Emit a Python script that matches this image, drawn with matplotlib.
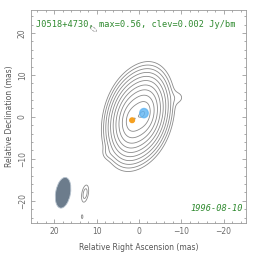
import numpy as np
import matplotlib.pyplot as plt
from matplotlib.patches import Ellipse

# Datos del mapa
source = "J0518+4730"
peak = 0.56
clev = 0.002
date = "1996-08-10"
n_levels = 11
level_step = 1.75

# emisión principal (perfil exp(-rho^p)): x, y, amplitud, escalas, PA
main_x = [-1.2, 1.6]
main_y = [0.9, -0.8]
main_amp = [0.29, 0.27]
main_a, main_b, main_pa, main_p = 3.95, 2.3, -10, 1.5

# componentes gaussianas débiles: x, y (mas), amplitud (Jy/bm), sigma mayor/menor, PA (grados)
comp_x = [-9.4, 7.4, 12.7, 13.4, 10.8]
comp_y = [4.6, -8.8, -18.3, -23.8, 21.0]
comp_amp = [0.0013, 0.0010, 0.0030, 0.00215, -0.0023]
comp_smaj = [1.2, 1.0, 1.6, 0.45, 0.9]
comp_smin = [1.2, 1.0, 0.6, 0.18, 0.35]
comp_pa = [0, 0, -10, 0, 50]

# componentes del modelo
dot_x = [1.6, -1.2]
dot_y = [-0.8, 0.9]
dot_r = [0.55, 1.0]
dot_col = ['#f5a020', '#5fb4f2']

# haz
beam_x, beam_y = 17.9, -18.1
beam_maj, beam_min, beam_pa = 7.4, 3.5, -10


def rotar(X, Y, cx, cy, pa):
    t = np.radians(pa)
    dx = X - cx
    dy = Y - cy
    # u a lo largo del PA (norte hacia el este), v perpendicular
    return dx * np.sin(t) + dy * np.cos(t), dx * np.cos(t) - dy * np.sin(t)


x = np.linspace(27, -27, 540)
y = np.linspace(-27, 27, 540)
X, Y = np.meshgrid(x, y)

img = np.zeros_like(X)
for cx, cy, a in zip(main_x, main_y, main_amp):
    u, v = rotar(X, Y, cx, cy, main_pa)
    rho = np.sqrt((u / main_a) ** 2 + (v / main_b) ** 2)
    img += a * np.exp(-rho ** main_p)
for cx, cy, a, sj, sn, pa in zip(comp_x, comp_y, comp_amp, comp_smaj, comp_smin, comp_pa):
    u, v = rotar(X, Y, cx, cy, pa)
    img += a * np.exp(-0.5 * ((u / sj) ** 2 + (v / sn) ** 2))
img *= peak / img.max()

levels = [clev * level_step ** k for k in range(n_levels)]

fig = plt.figure(figsize=(2.64, 2.62), dpi=100)
ax = fig.add_axes([0.117, 0.149, 0.815, 0.813])
ax.contour(X, Y, img, levels=levels, colors='#8a8a8a', linewidths=0.6)
ax.contour(X, Y, img, levels=[-clev], colors='#8a8a8a', linewidths=0.5, linestyles='dashed')

ax.add_patch(Ellipse((dot_x[0], dot_y[0]), 2 * dot_r[0], 2 * dot_r[0], color=dot_col[0], zorder=5))
ax.add_patch(Ellipse((dot_x[1], dot_y[1]), 2 * dot_r[1], 2.2 * dot_r[1], color=dot_col[1], alpha=0.8, zorder=5))

ax.add_patch(Ellipse((beam_x, beam_y), beam_min, beam_maj, angle=-beam_pa,
                     facecolor='#6c7c8c', edgecolor='#b8c4d0', lw=0.6, zorder=4))

ax.set_xlim(25.5, -25.3)
ax.set_ylim(-25.3, 25.5)
ax.set_xticks([20, 10, 0, -10, -20])
ax.set_yticks([-20, -10, 0, 10, 20])
ax.set_xticks(np.arange(-24, 25, 2), minor=True)
ax.set_yticks(np.arange(-24, 25, 2), minor=True)
ax.set_xticklabels(['20', '10', '0', '\u221210', '\u221220'])
ax.set_yticklabels(['\u221220', '\u221210', '0', '10', '20'], rotation=90, va='center')
ax.tick_params(which='both', direction='in', top=True, right=True, colors='#888888',
               labelcolor='#6a6a6a', labelsize=5.5, width=0.5)
ax.tick_params(which='major', length=3, pad=3)
ax.tick_params(which='minor', length=1.5)
for s in ax.spines.values():
    s.set_color('#999999')
    s.set_linewidth(0.6)

ax.set_xlabel('Relative Right Ascension (mas)', fontsize=5.5, color='#555555', labelpad=5)
ax.set_ylabel('Relative Declination (mas)', fontsize=5.5, color='#555555', labelpad=3)

ax.text(0.025, 0.955, f"{source}, max={peak}, clev={clev} Jy/bm", transform=ax.transAxes,
        family='DejaVu Sans Mono', fontsize=6.2, color='#2f8a2f', va='top', ha='left')
ax.text(0.985, 0.045, date, transform=ax.transAxes, family='DejaVu Sans Mono',
        style='italic', fontsize=6.2, color='#2f8a2f', va='bottom', ha='right')

fig.savefig('out.png', dpi=100)
